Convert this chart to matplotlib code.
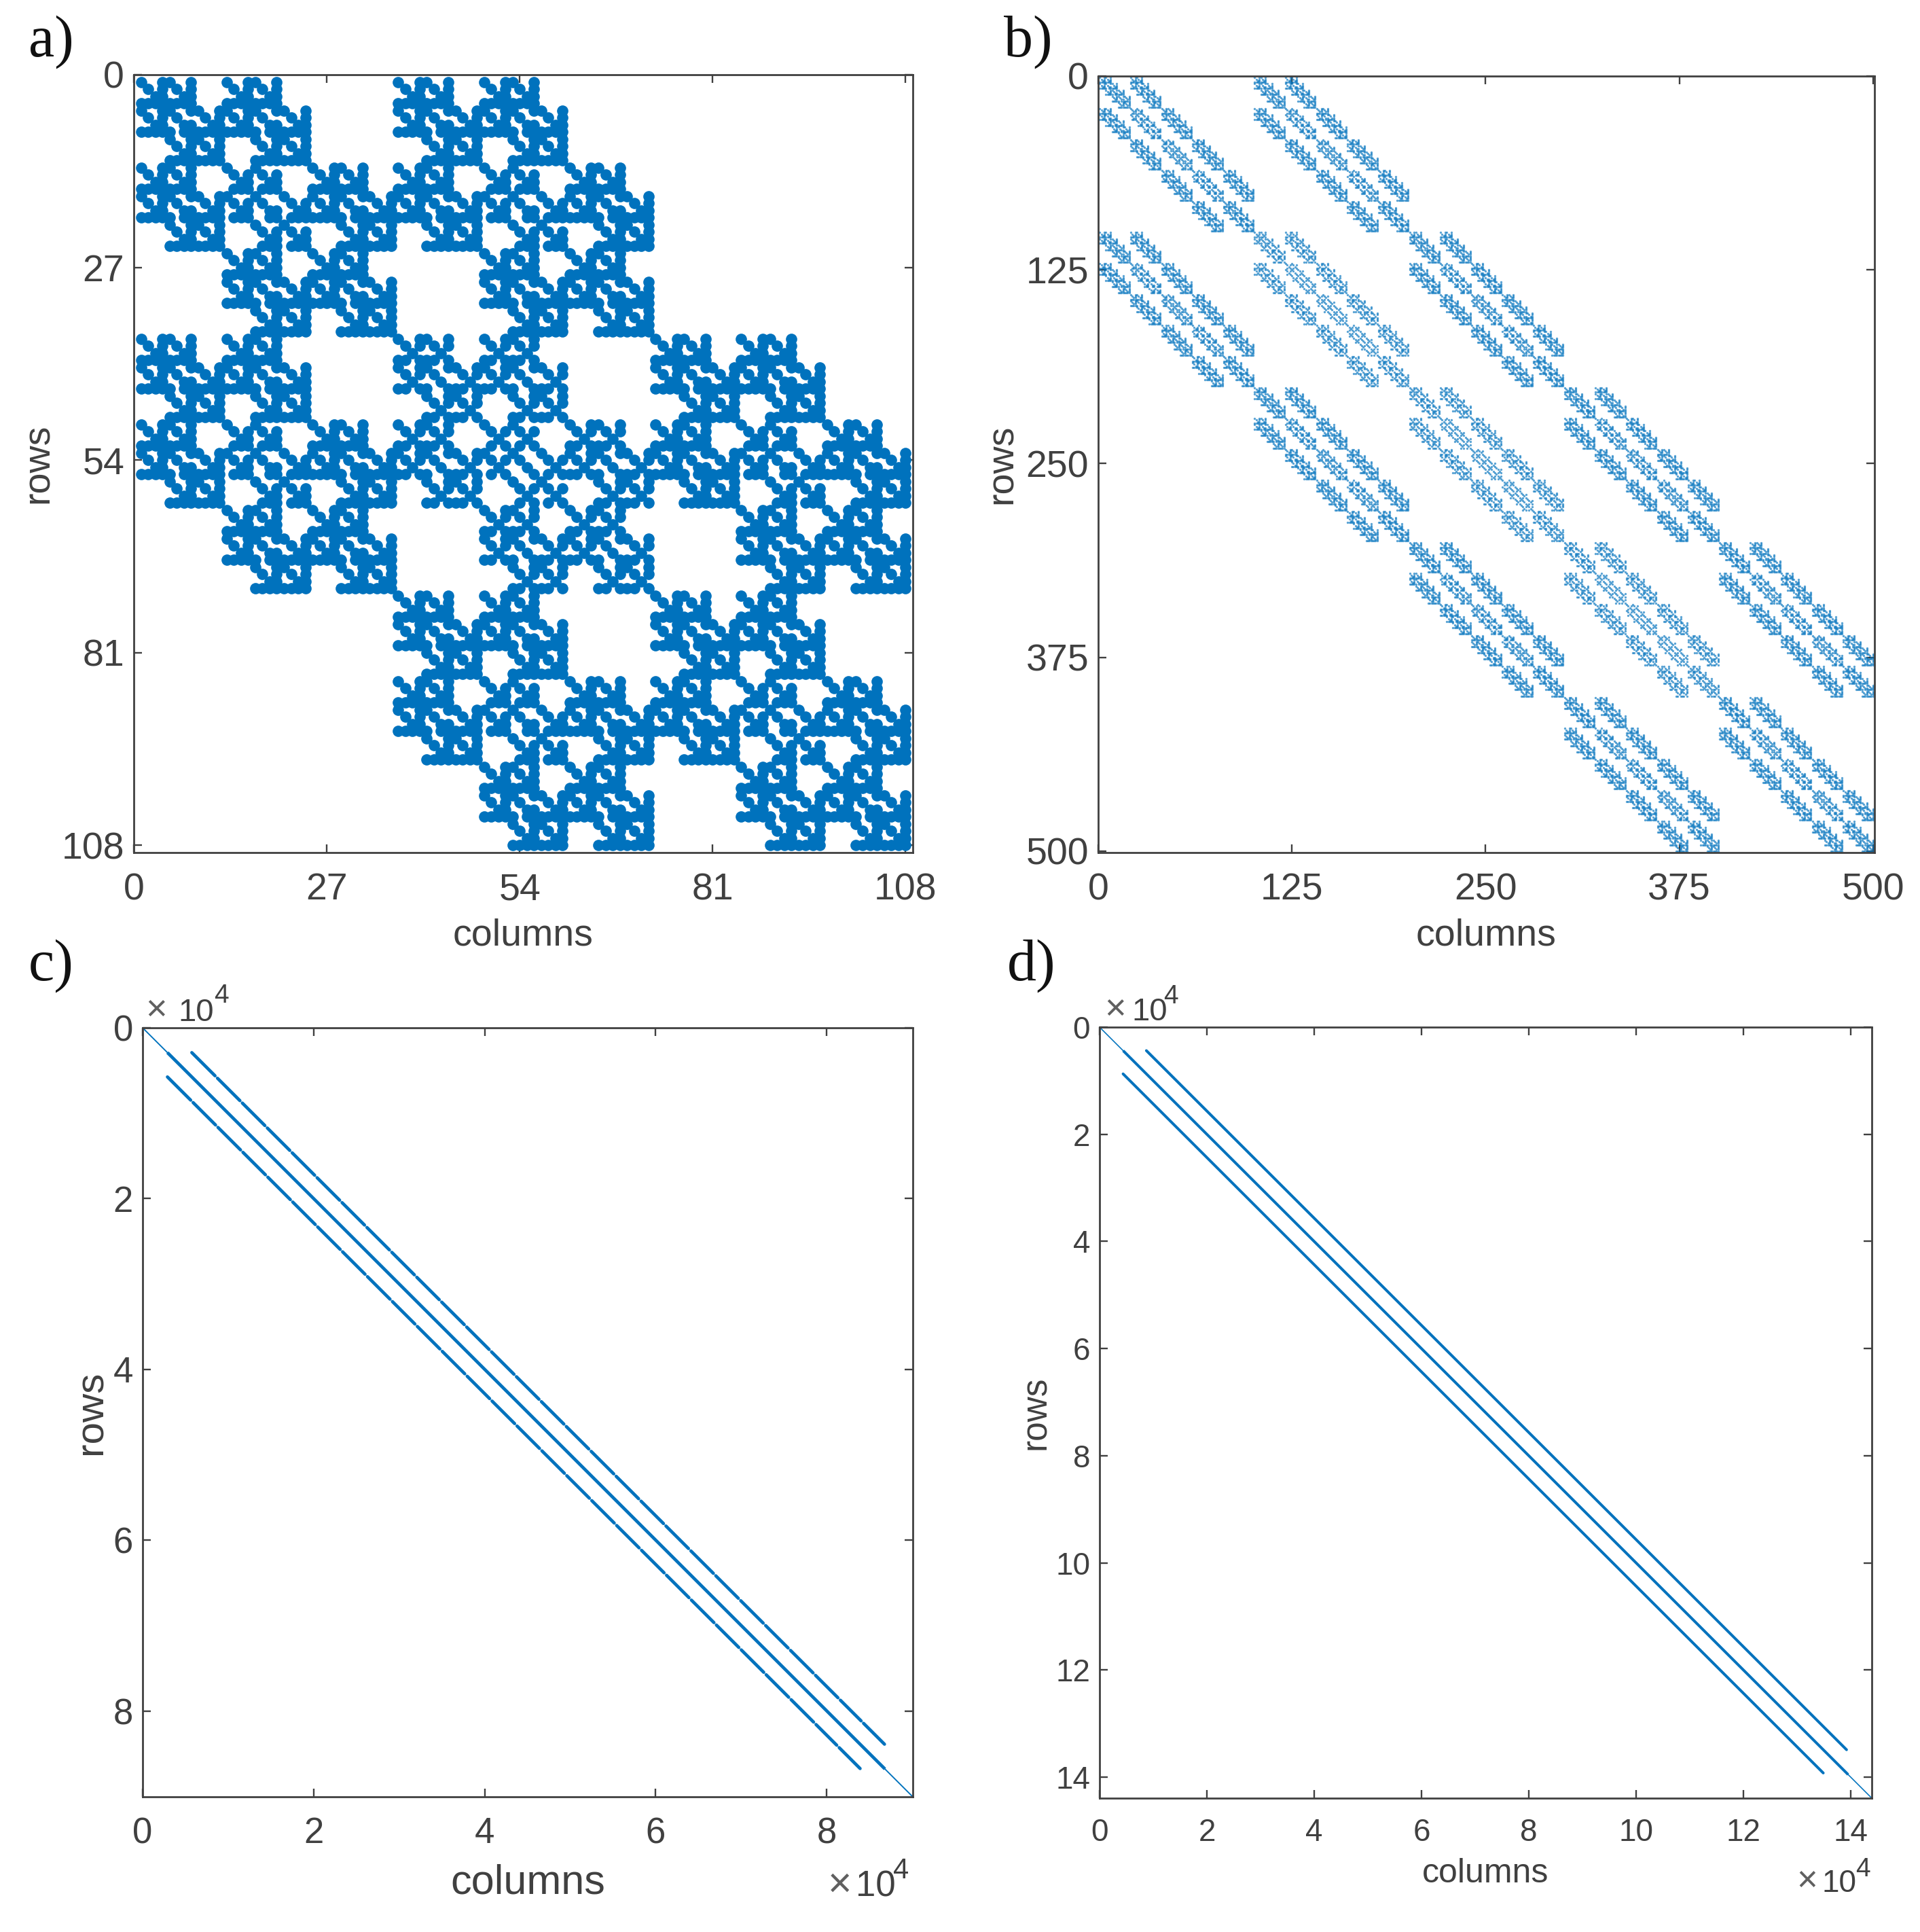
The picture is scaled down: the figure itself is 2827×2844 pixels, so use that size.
import numpy as np
import matplotlib
matplotlib.use('Agg')
import matplotlib.pyplot as plt

W, H = 2827, 2844
blue = '#0072BD'
grey = '#404040'

# a, b: 4 unknowns per grid node, 27 point stencil on n x n x n nodes
nodes_a = 3
nodes_b = 5
field_axis = [1, 0, 2]   # which grid direction the first 3 unknowns couple to the 4th along

ticks_a = [0, 27, 54, 81, 108]
ticks_b = [0, 125, 250, 375, 500]
ticks_c = [0, 2, 4, 6, 8]
ticks_d = [0, 2, 4, 6, 8, 10, 12, 14]

# long diagonals in c, d, in units of 1e4
c_limit = 9.006
c_thick = [0.29, 8.68]
c_side_start = [0.575, 0.29]
c_side_end = [8.675, 8.39]
c_gaps = [0.861, 1.152, 1.444, 1.735, 2.026, 2.318, 2.609, 2.900, 3.192, 3.483, 3.775, 4.066, 4.357,
          4.649, 4.940, 5.231, 5.523, 5.814, 6.105, 6.397, 6.688, 6.980, 7.271, 7.562, 7.854, 8.145, 8.416]

d_limit = 14.39
d_thick = [0.44, 13.95]
d_side_start = [0.872, 0.438]
d_side_end = [13.92, 13.486]
d_gaps = [1.27, 1.73, 2.20, 2.66, 3.13, 3.59, 4.06, 4.52, 4.99, 5.45, 5.92, 6.38, 6.85, 7.31,
          7.78, 8.24, 8.71, 9.17, 9.64, 10.10, 10.57, 11.03, 11.50, 11.96, 12.43, 12.89, 13.36]


def pattern(n):
    rows, cols = [], []
    for a in range(n ** 3):
        ia = [a % n, (a // n) % n, a // n ** 2]
        for b in range(n ** 3):
            ib = [b % n, (b // n) % n, b // n ** 2]
            d = [ib[k] - ia[k] for k in range(3)]
            if max(abs(v) for v in d) > 1:
                continue
            for s in range(4):
                rows.append(4 * a + s)
                cols.append(4 * b + s)
            for s in range(3):
                k = field_axis[s]
                if d[k] == 0 and 0 < ia[k] < n - 1:
                    continue
                rows += [4 * a + s, 4 * a + 3]
                cols += [4 * b + 3, 4 * b + s]
    return np.array(rows) + 1, np.array(cols) + 1


def px_axes(l, t, r, b):
    return fig.add_axes([l / W, 1 - b / H, (r - l) / W, (b - t) / H])


def style(ax, xt, yt, fs, xpad, xlab, xlabpad, ylab, ylabpad):
    ax.invert_yaxis()
    ax.set_xticks(xt)
    ax.set_yticks(yt)
    ax.tick_params(direction='in', top=True, right=True, length=8.5, width=1.7, color=grey,
                   labelcolor=grey, labelsize=fs)
    ax.tick_params(axis='x', pad=xpad)
    ax.tick_params(axis='y', pad=10)
    for s in ax.spines.values():
        s.set_linewidth(2.0)
        s.set_color(grey)
    ax.set_xlabel('columns', fontsize=xlab, color=grey, labelpad=xlabpad)
    ax.set_ylabel('rows', fontsize=ylab, color=grey, labelpad=ylabpad)


def diagonals(ax, limit, thick, start, end, gaps, lw, half):
    ax.plot([0, thick[0]], [0, thick[0]], color=blue, lw=lw * 0.4)
    ax.plot(thick, thick, color=blue, lw=lw, solid_capstyle='butt')
    ax.plot([thick[1], limit], [thick[1], limit], color=blue, lw=lw * 0.4)
    off = start[0] - start[1]
    edges = [start[0]] + gaps + [end[0]]
    for i, (p, q) in enumerate(zip(edges[:-1], edges[1:])):
        a = p + (half if i > 0 else 0)
        e = q - (half if i < len(gaps) else 0)
        ax.plot([a, e], [a - off, e - off], color=blue, lw=lw, solid_capstyle='round')
        ax.plot([a - off, e - off], [a, e], color=blue, lw=lw, solid_capstyle='round')
    ax.set_xlim(0, limit)
    ax.set_ylim(0, limit)


def times_ten(x0, x1, x2, base, base4, fs, fs4):
    fig.text(x0 / W, 1 - base / H, '\u00d7', fontsize=fs * 1.15, color='#606060', ha='left', va='baseline')
    fig.text(x1 / W, 1 - base / H, '10', fontsize=fs, color=grey, ha='left', va='baseline')
    fig.text(x2 / W, 1 - base4 / H, '4', fontsize=fs4, color=grey, ha='left', va='baseline')


plt.rcParams['font.family'] = ['Liberation Sans', 'DejaVu Sans']
fig = plt.figure(figsize=(W / 100, H / 100), dpi=100)

# a
ax = px_axes(197, 110, 1344, 1255)
r, c = pattern(nodes_a)
ax.plot(c, r, 'o', color=blue, ms=12.0, mew=0)
ax.set_xlim(0, 109)
ax.set_ylim(0, 109)
style(ax, ticks_a, ticks_a, 40, 21, 40, 11, 40, 6)

# b
ax = px_axes(1617, 112, 2760, 1255)
r, c = pattern(nodes_b)
ax.plot(c, r, 'o', color=blue, ms=2.4, mew=0, alpha=0.65)
ax.set_xlim(0, 501)
ax.set_ylim(0, 501)
style(ax, ticks_b, ticks_b, 40, 21, 40, 11, 40, 6)

# c
ax = px_axes(210, 1513, 1344, 2645)
diagonals(ax, c_limit, c_thick, c_side_start, c_side_end, c_gaps, 3.4, 0.014)
style(ax, ticks_c, ticks_c, 38, 21, 44, 14, 42, 4)
times_ten(214, 262, 315, 1503, 1476, 34, 28)
times_ten(1219, 1260, 1315, 2792, 2765, 38, 30)

# d
ax = px_axes(1619, 1512, 2756, 2647)
diagonals(ax, d_limit, d_thick, d_side_start, d_side_end, d_gaps, 2.9, 0.006)
style(ax, ticks_d, ticks_d, 33, 21, 36, 11, 37, 3)
times_ten(1626, 1666, 1713, 1502, 1477, 34, 28)
times_ten(2645, 2683, 2732, 2785, 2762, 33, 28)

for lab, x, y in [('a)', 42, 82), ('b)', 1478, 82), ('c)', 42, 1442), ('d)', 1483, 1442)]:
    fig.text(x / W, 1 - y / H, lab, family='Liberation Serif', fontsize=62, color='#111111', ha='left', va='baseline')

fig.savefig('out.png', dpi=100)
